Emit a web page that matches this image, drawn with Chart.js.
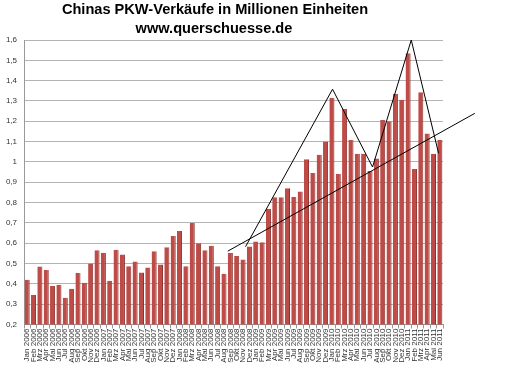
<!DOCTYPE html>
<html>
<head>
<meta charset="utf-8">
<script src="https://cdn.jsdelivr.net/npm/chart.js@4/dist/chart.umd.min.js"></script>
<style>
html,body{margin:0;padding:0;background:#fff;}
#wrap{position:relative;width:526px;height:368px;}
</style>
</head>
<body>
<div id="wrap"><canvas id="c" width="526" height="368"></canvas></div>
<script>
const titleLine1 = "Chinas PKW-Verkäufe in Millionen Einheiten";
const titleLine2 = "www.querschuesse.de";
const monthNames = ["Jan","Feb","Mrz","Apr","Mai","Jun","Jul","Aug","Sep","Okt","Nov","Dez"];
const years = [2006, 2007, 2008, 2009, 2010, 2011];
const categories = [];
years.forEach(y => monthNames.forEach((m, i) => { if (y < 2011 || i < 6) categories.push(m + " " + y); }));

const sales2006 = [0.42, 0.345, 0.485, 0.468, 0.39, 0.395, 0.332, 0.376, 0.453, 0.406, 0.50, 0.565];
const sales2007 = [0.553, 0.415, 0.568, 0.545, 0.487, 0.51, 0.456, 0.48, 0.56, 0.495, 0.58, 0.635];
const sales2008 = [0.66, 0.487, 0.70, 0.60, 0.565, 0.588, 0.487, 0.45, 0.552, 0.537, 0.52, 0.584];
const sales2009 = [0.608, 0.605, 0.77, 0.826, 0.826, 0.87, 0.828, 0.855, 1.013, 0.945, 1.035, 1.10];
const sales2010 = [1.315, 0.94, 1.26, 1.108, 1.04, 1.04, 0.955, 1.017, 1.206, 1.20, 1.336, 1.306];
const sales2011 = [1.535, 0.965, 1.343, 1.14, 1.04, 1.108];
const sales = [].concat(sales2006, sales2007, sales2008, sales2009, sales2010, sales2011);

const yTicks = [0.2, 0.3, 0.4, 0.5, 0.6, 0.7, 0.8, 0.9, 1, 1.1, 1.2, 1.3, 1.4, 1.5, 1.6];

// hand-drawn annotation lines, in data units (x = month index, y = millions)
const trendX = [31.6, 70.5];
const trendY = [0.561, 1.239];
const zigzagX = [34.4, 48.1, 54.4, 60.5, 64.8];
const zigzagY = [0.583, 1.358, 0.975, 1.6, 1.043];

const annotationPlugin = {
  id: 'annotLines',
  afterDatasetsDraw(chart) {
    const ctx = chart.ctx;
    const xs = chart.scales.x, ys = chart.scales.y;
    const drawPoly = (X, Y) => {
      ctx.beginPath();
      X.forEach((v, i) => {
        const px = xs.getPixelForValue(v);
        const py = ys.getPixelForValue(Y[i]);
        if (i === 0) ctx.moveTo(px, py); else ctx.lineTo(px, py);
      });
      ctx.stroke();
    };
    ctx.save();
    ctx.strokeStyle = '#000';
    ctx.lineWidth = 1;
    ctx.lineJoin = 'miter';
    drawPoly(trendX, trendY);
    drawPoly(zigzagX, zigzagY);
    ctx.restore();
  }
};

const titlePlugin = {
  id: 'titleText',
  afterDraw(chart) {
    const ctx = chart.ctx;
    ctx.save();
    ctx.fillStyle = '#000';
    ctx.textAlign = 'center';
    ctx.textBaseline = 'middle';
    ctx.font = 'bold 14.6px "Liberation Sans", Arial, sans-serif';
    ctx.fillText(titleLine1, 215, 10);
    ctx.fillText(titleLine2, 214, 29);
    ctx.restore();
  }
};

new Chart(document.getElementById('c'), {
  type: 'bar',
  data: {
    labels: categories,
    datasets: [
      {
        data: sales,
        backgroundColor: '#bd4b47',
        borderColor: '#8e2f2c',
        borderWidth: {left: 0, right: 1, top: 0, bottom: 0},
        barPercentage: 0.8,
        categoryPercentage: 1.0
      }
    ]
  },
  options: {
    responsive: false,
    animation: false,
    devicePixelRatio: 1,
    layout: {padding: {top: 40, right: 83, left: 0, bottom: 0}},
    plugins: {legend: {display: false}, tooltip: {enabled: false}, title: {display: false}},
    scales: {
      x: {
        type: 'category',
        offset: true,
        grid: {display: true, drawOnChartArea: false, offset: true, color: '#999', tickLength: 4},
        border: {display: true, color: '#999'},
        ticks: {
          autoSkip: false, maxRotation: 90, minRotation: 90, padding: 0,
          color: '#333', font: {family: '"Liberation Sans", Arial, sans-serif', size: 8}
        },
        afterFit(scale) { scale.height = 43.5; }
      },
      y: {
        min: 0.2,
        max: 1.6,
        afterBuildTicks(scale) { scale.ticks = yTicks.map(v => ({value: v})); },
        grid: {color: '#b4b4b4', drawTicks: false},
        border: {display: true, color: '#999'},
        ticks: {
          padding: 7,
          color: '#333',
          font: {family: '"Liberation Sans", Arial, sans-serif', size: 8},
          callback: v => String(Math.round(v * 10) / 10).replace('.', ',')
        },
        afterFit(scale) { scale.width = 24; }
      }
    }
  },
  plugins: [annotationPlugin, titlePlugin]
});
</script>
</body>
</html>
